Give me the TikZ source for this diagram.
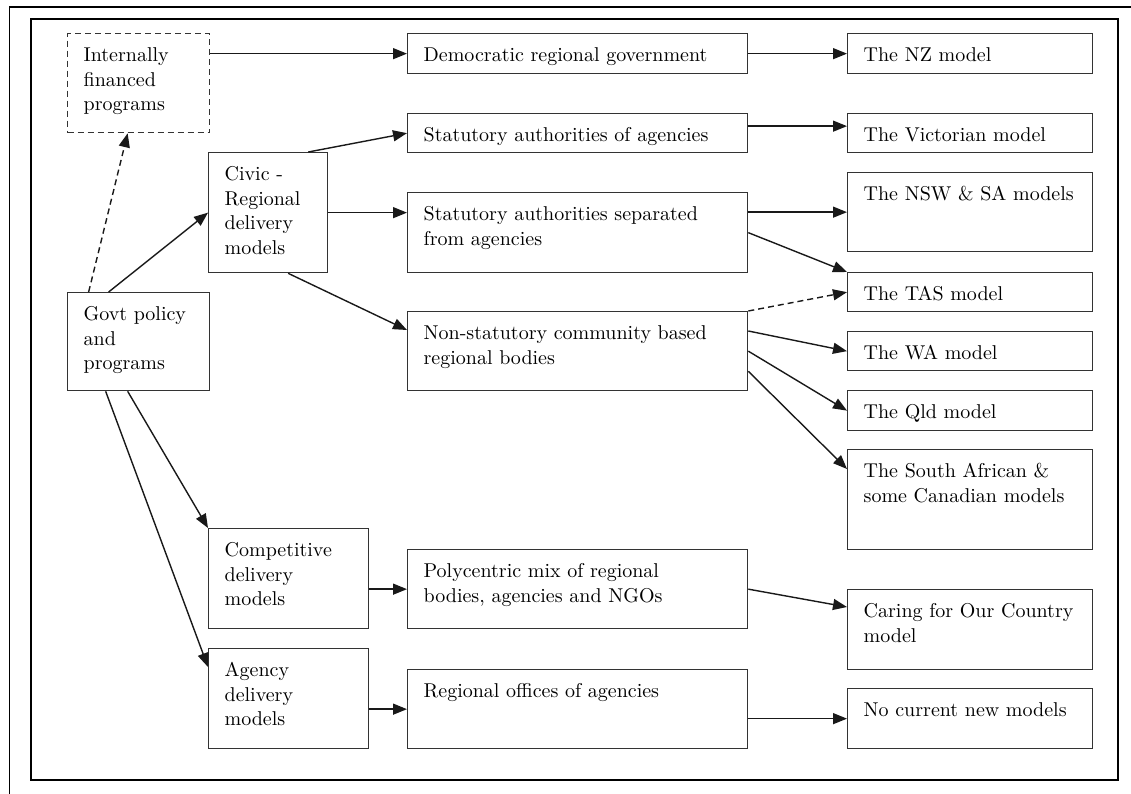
\documentclass[tikz,border=0pt]{standalone}
\usepackage{fontspec}
\setmainfont{lmroman10-regular.otf}
\usetikzlibrary{arrows.meta}

\tikzset{every picture/.style={line width=1.2pt}}
\tikzset{
  box/.style={draw=black!80, line width=1.3pt, anchor=north west, align=left,
    inner xsep=16pt, inner ysep=0pt, text height=28pt,
    font=\fontsize{20}{24.5}\selectfont},
  dashbox/.style={box, dash pattern={on 6pt off 4pt}},
  arr/.style={draw=black!90, line width=1.4pt, -{Triangle[length=14pt,width=11pt]}},
  dasharr/.style={arr, dash pattern={on 6pt off 4pt}}
}

\begin{document}
\begin{tikzpicture}[x=1pt,y=1pt,yscale=-1,xscale=1]
\useasboundingbox (0,0) rectangle (1131,794);

%Frames
\draw [line width=1.5pt]  (1131,7) -- (9.5,7) -- (9.5,794) ;
\draw [line width=1.3pt]  (31,19) rectangle (1118,780) ;

%Left column
\node [dashbox, text width=110pt, text depth=71pt] (intfin) at (67,33) {Internally\\financed\\programs};
\node [box, text width=110pt, text depth=70pt] (govt) at (67,292) {Govt policy\\and\\programs};
\node [box, text width=87pt, text depth=92pt] (civic) at (208,152) {Civic -\\Regional\\delivery\\models};
\node [box, text width=128pt, text depth=72pt] (comp) at (208,528) {Competitive\\delivery\\models};
\node [box, text width=128pt, text depth=72pt] (agency) at (208,648) {Agency\\delivery\\models};

%Middle column
\node [box, text width=308pt, text depth=12pt] (dem) at (407,33) {Democratic regional government};
\node [box, text width=308pt, text depth=11pt] (stag) at (407,113) {Statutory authorities of agencies};
\node [box, text width=308pt, text depth=52pt] (sep) at (407,192) {Statutory authorities separated\\from agencies};
\node [box, text width=308pt, text depth=51pt] (nonstat) at (407,311) {Non-statutory community based\\regional bodies};
\node [box, text width=308pt, text depth=51pt] (poly) at (407,549) {Polycentric mix of regional\\bodies, agencies and NGOs};
\node [box, text width=308pt, text depth=51pt] (regoff) at (407,669) {Regional offices of agencies};

%Right column
\node [box, text width=213pt, text depth=12pt] (nz) at (847,33) {The NZ model};
\node [box, text width=213pt, text depth=11pt] (vic) at (847,113) {The Victorian model};
\node [box, text width=213pt, text depth=51pt] (nsw) at (847,172) {The NSW \& SA models};
\node [box, text width=213pt, text depth=11pt] (tas) at (847,272) {The TAS model};
\node [box, text width=213pt, text depth=11pt] (wa) at (847,331) {The WA model};
\node [box, text width=213pt, text depth=12pt] (qld) at (847,390) {The Qld model};
\node [box, text width=213pt, text depth=72pt] (safr) at (847,449) {The South African \&\\some Canadian models};
\node [box, text width=213pt, text depth=52pt] (caring) at (847,589) {Caring for Our Country\\model};
\node [box, text width=213pt, text depth=32pt] (nocur) at (847,688) {No current new models};

%Straight Lines
\draw [dasharr]  ([xshift=-50pt]govt.north) -- ([xshift=-11pt]intfin.south) ;
\draw [arr]  ([xshift=-30pt]govt.north) -- (civic.west) ;
\draw [arr]  ([xshift=-11pt]govt.south) -- (comp.north west) ;
\draw [arr]  ([xshift=-33pt]govt.south) -- ([yshift=19pt]agency.north west) ;
\draw [arr]  (intfin.east |- dem.west) -- (dem.west) ;
\draw [arr]  ([xshift=-20pt]civic.north east) -- (stag.west) ;
\draw [arr]  (civic.east) -- (civic.east -| sep.west) ;
\draw [arr]  ([xshift=20pt]civic.south) -- ([yshift=19pt]nonstat.north west) ;
\draw [arr]  (poly.west -| comp.east) -- (poly.west) ;
\draw [arr]  (regoff.west -| agency.east) -- (regoff.west) ;
\draw [arr]  (dem.east) -- (nz.west) ;
\draw [arr]  ([yshift=-7pt]stag.east) -- ([yshift=-7pt]vic.west) ;
\draw [arr]  (sep.east |- nsw.west) -- (nsw.west) ;
\draw [arr]  (sep.east) -- (tas.north west) ;
\draw [dasharr]  (nonstat.north east) -- (tas.west) ;
\draw [arr]  ([yshift=20pt]nonstat.north east) -- (wa.west) ;
\draw [arr]  (nonstat.east) -- (qld.west) ;
\draw [arr]  ([yshift=-20pt]nonstat.south east) -- ([yshift=20pt]safr.north west) ;
\draw [arr]  (poly.east) -- ([yshift=18pt]caring.north west) ;
\draw [arr]  (regoff.east |- nocur.west) -- (nocur.west) ;

\end{tikzpicture}
\end{document}
